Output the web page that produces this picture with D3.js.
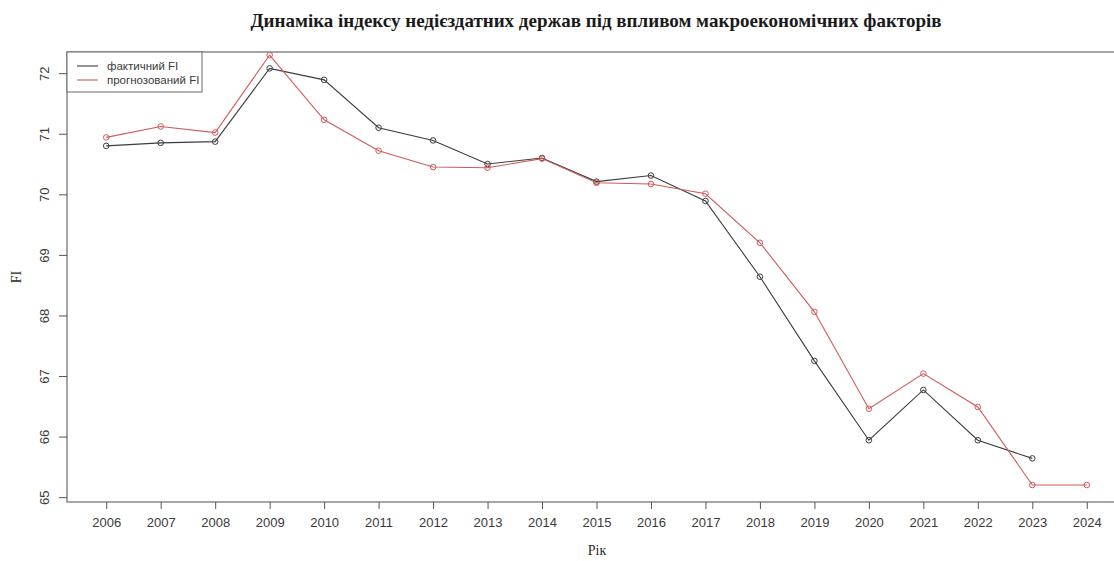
<!DOCTYPE html>
<html>
<head>
<meta charset="utf-8">
<script src="https://cdn.jsdelivr.net/npm/d3@7"></script>
<style>
  html, body { margin: 0; padding: 0; background: #fff; overflow: hidden; }
  svg { display: block; }
</style>
</head>
<body>
<svg id="chart" width="1114" height="561"></svg>
<script>
// Years on the x axis
const years = [2006, 2007, 2008, 2009, 2010, 2011, 2012, 2013, 2014, 2015,
               2016, 2017, 2018, 2019, 2020, 2021, 2022, 2023, 2024];

// Actual FI (no value for 2024)
const actualFI = [70.80, 70.85, 70.87, 72.08, 71.89, 71.10, 70.89, 70.50, 70.60, 70.21,
                  70.31, 69.89, 68.64, 67.25, 65.94, 66.77, 65.94, 65.64, null];

// Forecast FI
const forecastFI = [70.94, 71.12, 71.02, 72.30, 71.23, 70.72, 70.45, 70.44, 70.59, 70.19,
                    70.17, 70.01, 69.20, 68.06, 66.46, 67.04, 66.49, 65.20, 65.20];

const yTicks = [65, 66, 67, 68, 69, 70, 71, 72];

const title = "Динаміка індексу недієздатних держав під впливом макроекономічних факторів";
const xLabel = "Рік";
const yLabel = "FI";
const seriesNames = ["фактичний FI", "прогнозований FI"];
const seriesColors = ["#3c3c3c", "#d05a5a"];

const svg = d3.select("#chart");

const plot = { left: 67, right: 1126, top: 52, bottom: 502 };

const x = d3.scaleLinear()
  .domain([years[0] - 0.72, years[years.length - 1] + 0.72])
  .range([plot.left, plot.right]);

const y = d3.scaleLinear()
  .domain([64.92, 72.35])
  .range([plot.bottom, plot.top]);

const sansFont = "'Liberation Sans', Arial, sans-serif";
const serifFont = "'Liberation Serif', 'Times New Roman', serif";

// Plot frame
svg.append("rect")
  .attr("x", plot.left).attr("y", plot.top)
  .attr("width", plot.right - plot.left).attr("height", plot.bottom - plot.top)
  .attr("fill", "none").attr("stroke", "#6a6a6a").attr("stroke-width", 1.2);

// X axis ticks and labels
const xAxis = d3.axisBottom(x)
  .tickValues(years)
  .tickFormat(d3.format("d"))
  .tickSizeInner(7)
  .tickSizeOuter(0)
  .tickPadding(9);

const gx = svg.append("g")
  .attr("transform", `translate(0,${plot.bottom})`)
  .call(xAxis);
gx.select(".domain").remove();
gx.selectAll(".tick line").attr("stroke", "#555");
gx.selectAll(".tick text")
  .attr("fill", "#3a3a3a")
  .style("font-family", sansFont)
  .style("font-size", "13px");

// Y axis ticks and rotated labels
const yAxis = d3.axisLeft(y)
  .tickValues(yTicks)
  .tickFormat(d3.format("d"))
  .tickSizeInner(8)
  .tickSizeOuter(0)
  .tickPadding(0);

const gy = svg.append("g")
  .attr("transform", `translate(${plot.left},0)`)
  .call(yAxis);
gy.select(".domain").remove();
gy.selectAll(".tick line").attr("stroke", "#555");
gy.selectAll(".tick text")
  .attr("x", 0).attr("dy", null)
  .attr("text-anchor", "middle")
  .attr("transform", "translate(-18,0) rotate(-90)")
  .attr("fill", "#3a3a3a")
  .style("font-family", sansFont)
  .style("font-size", "13px");

// Title
svg.append("text")
  .attr("x", 596).attr("y", 27)
  .attr("text-anchor", "middle")
  .style("font-family", serifFont)
  .style("font-weight", "bold")
  .style("font-size", "19px")
  .attr("fill", "#1a1a1a")
  .text(title);

// Axis titles
svg.append("text")
  .attr("x", 597).attr("y", 555)
  .attr("text-anchor", "middle")
  .style("font-family", serifFont)
  .style("font-size", "14px")
  .attr("fill", "#2a2a2a")
  .text(xLabel);

svg.append("text")
  .attr("transform", "translate(21,277) rotate(-90)")
  .attr("text-anchor", "middle")
  .style("font-family", serifFont)
  .style("font-size", "14px")
  .attr("fill", "#2a2a2a")
  .text(yLabel);

// Series lines and open-circle markers
const line = d3.line()
  .defined(d => d.v != null)
  .x(d => x(d.year))
  .y(d => y(d.v));

[actualFI, forecastFI].forEach((vals, i) => {
  const pts = years.map((year, k) => ({ year, v: vals[k] }));
  svg.append("path")
    .datum(pts)
    .attr("fill", "none")
    .attr("stroke", seriesColors[i])
    .attr("stroke-width", 1.1)
    .attr("d", line);
  svg.append("g")
    .selectAll("circle")
    .data(pts.filter(d => d.v != null))
    .join("circle")
    .attr("cx", d => x(d.year))
    .attr("cy", d => y(d.v))
    .attr("r", 2.8)
    .attr("fill", "none")
    .attr("stroke", seriesColors[i])
    .attr("stroke-width", 1);
});

// Legend
const legend = svg.append("g");
legend.append("rect")
  .attr("x", plot.left).attr("y", plot.top)
  .attr("width", 135).attr("height", 40)
  .attr("fill", "#fff").attr("stroke", "#6a6a6a").attr("stroke-width", 1);
seriesNames.forEach((name, i) => {
  const ly = 66 + i * 14;
  legend.append("line")
    .attr("x1", 77).attr("x2", 98)
    .attr("y1", ly).attr("y2", ly)
    .attr("stroke", seriesColors[i]).attr("stroke-width", 1.1);
  legend.append("text")
    .attr("x", 107).attr("y", ly + 4)
    .style("font-family", sansFont)
    .style("font-size", "11.5px")
    .attr("fill", "#3a3a3a")
    .text(name);
});
</script>
</body>
</html>
